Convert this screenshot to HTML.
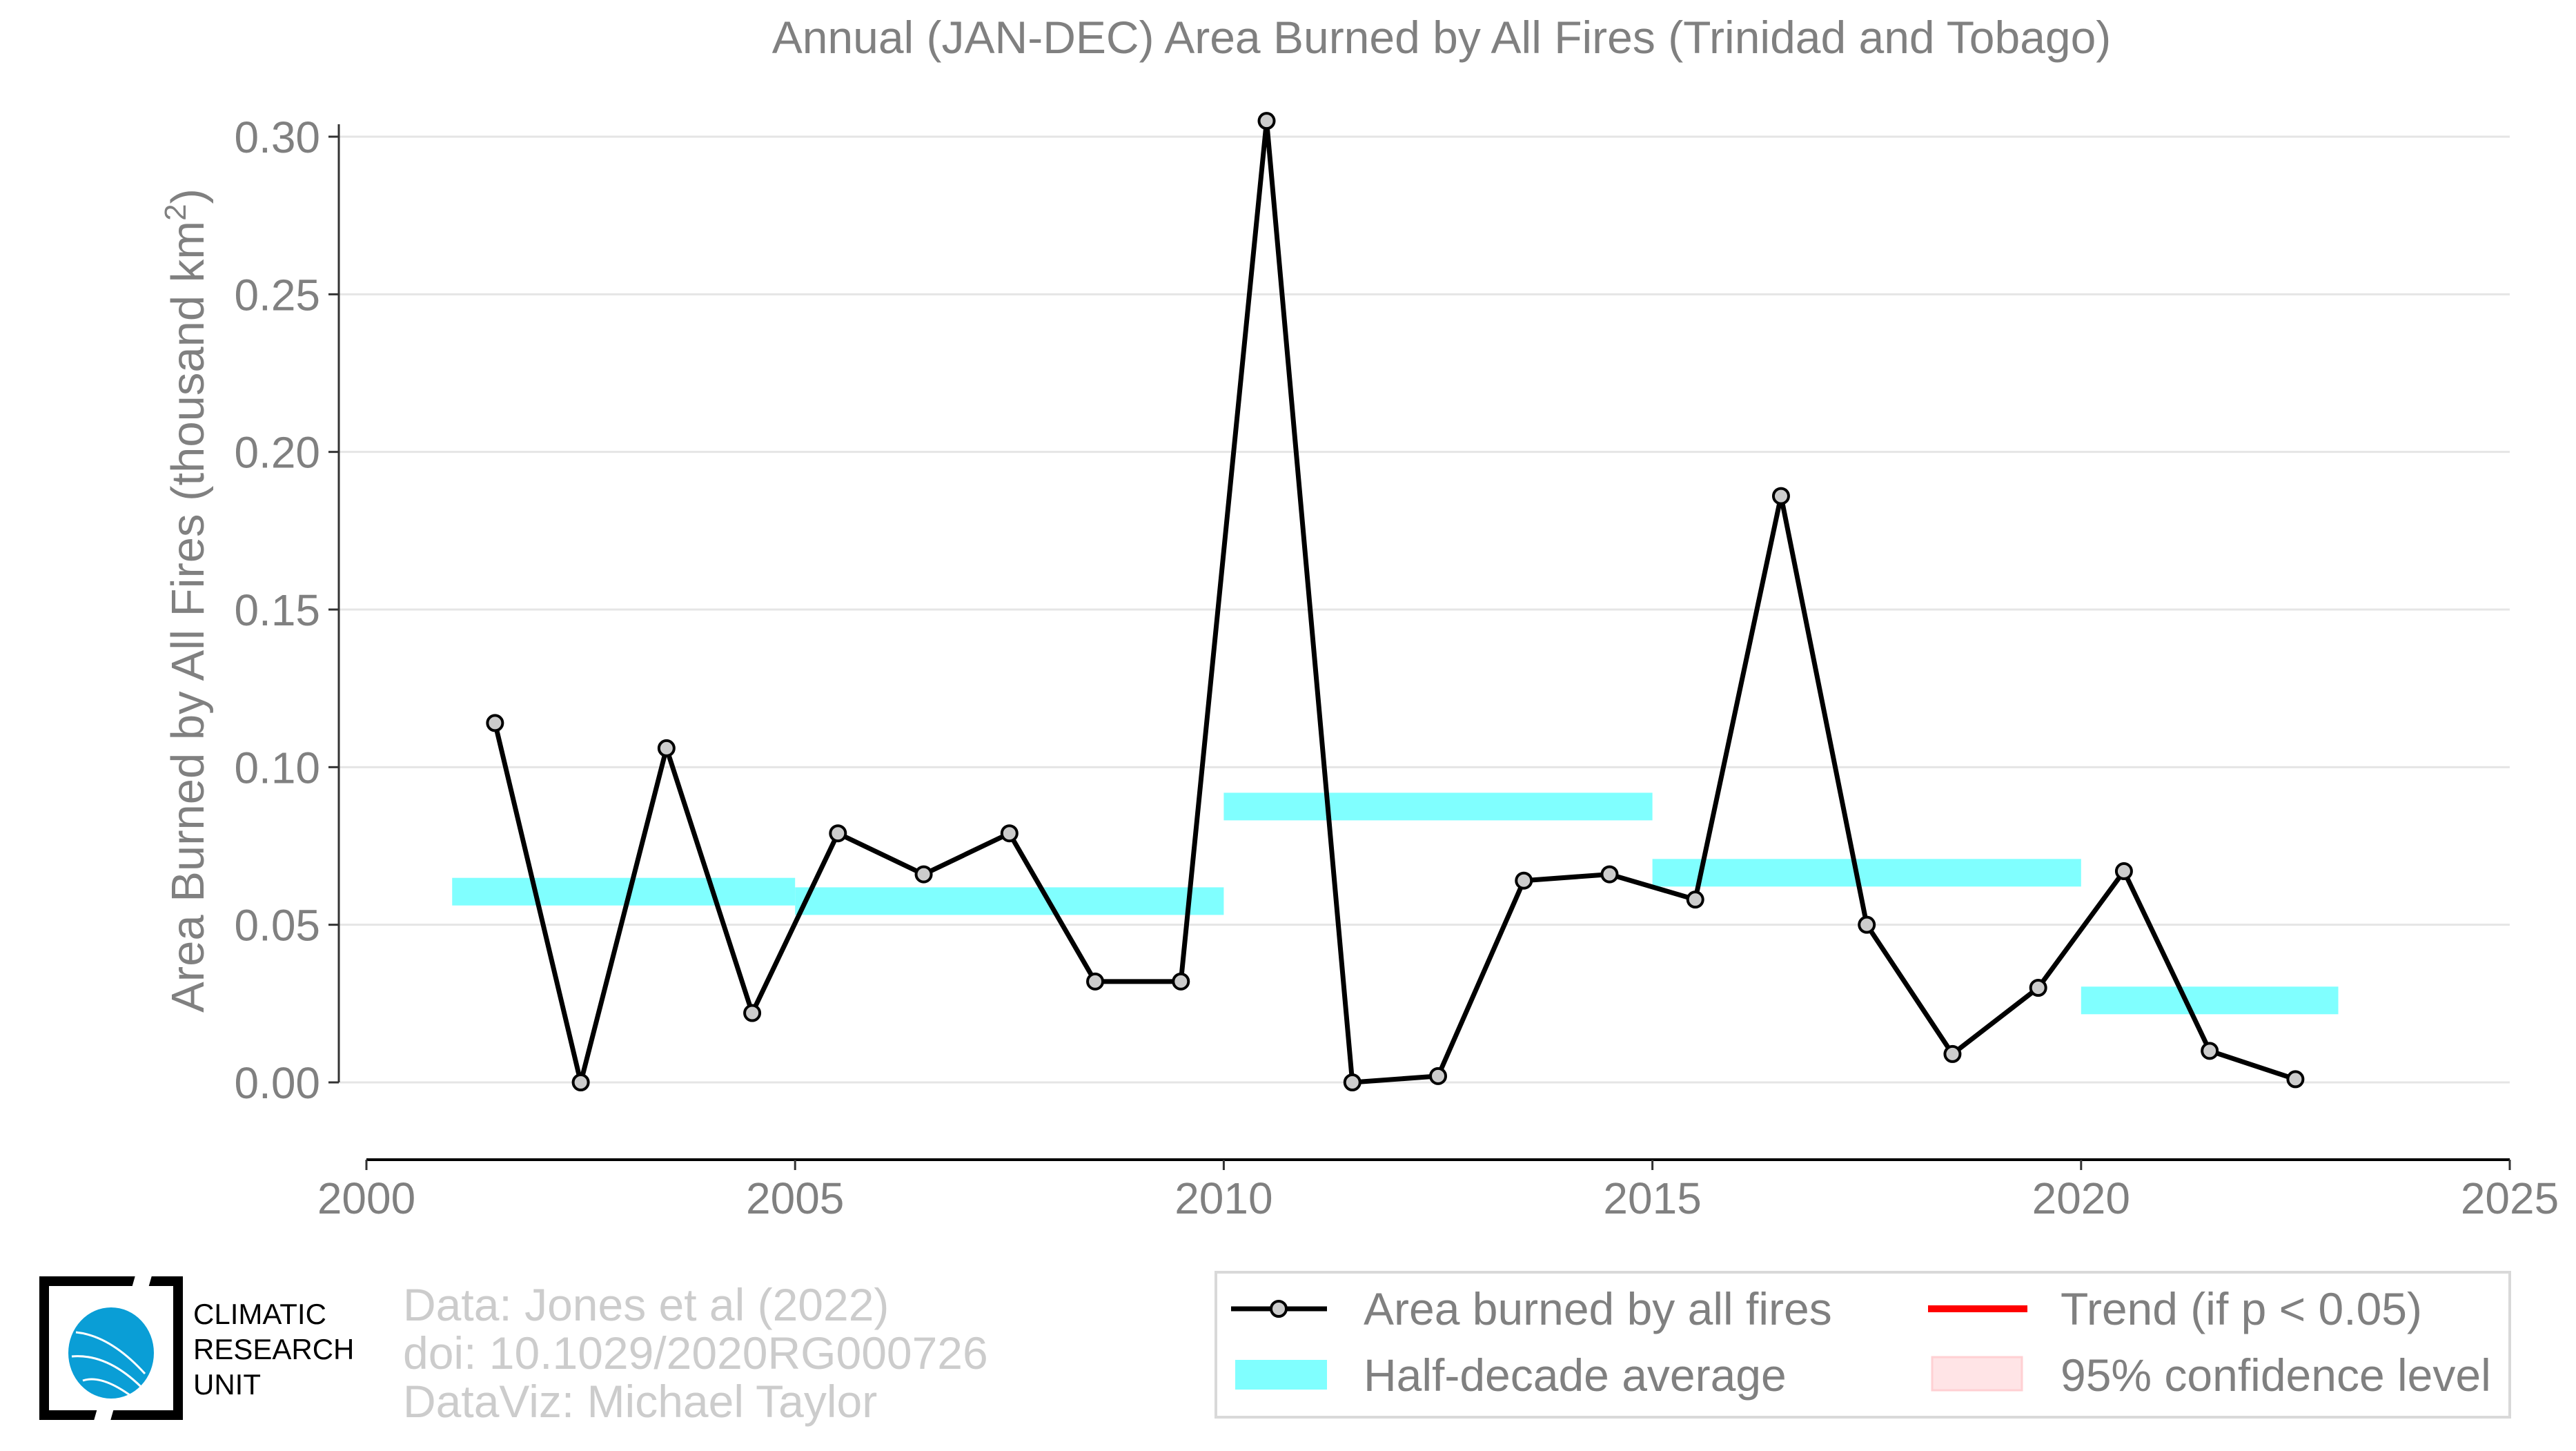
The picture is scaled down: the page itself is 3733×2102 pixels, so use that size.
<!DOCTYPE html>
<html><head><meta charset="utf-8"><style>
html,body{margin:0;padding:0;background:#fff;}
svg{display:block;font-family:"Liberation Sans",sans-serif;}
</style></head><body>
<svg id="chart" width="3733" height="2102" viewBox="0 0 3733 2102" xmlns="http://www.w3.org/2000/svg">
<text x="2089" y="77" text-anchor="middle" font-size="66" fill="#808080">Annual (JAN-DEC) Area Burned by All Fires (Trinidad and Tobago)</text>
<g id="grid"></g>
<g id="bars"></g>
<g id="series"></g>
<g id="axes"></g>
<text transform="translate(295,870) rotate(-90)" text-anchor="middle" font-size="67" fill="#808080">Area Burned by All Fires (thousand km<tspan font-size="44" dy="-26">2</tspan><tspan dy="26">)</tspan></text>

<g>
<rect x="64" y="1856" width="194" height="194" fill="none" stroke="#000" stroke-width="14"/>
<polygon points="196,1848 220,1848 160,2058 136,2058" fill="#fff"/>
<line x1="208" y1="1850" x2="148" y2="2056" stroke="#fff" stroke-width="10"/>
<ellipse cx="161" cy="1960" rx="62" ry="66" fill="#0a9ed6"/>
<path d="M110 1930 Q160 1935 210 1990 M104 1965 Q160 1960 215 2020 M120 2000 Q150 1990 200 2030" stroke="#fff" stroke-width="3" fill="none"/>
<text x="280" y="1918" font-size="42" fill="#000">CLIMATIC</text>
<text x="280" y="1969" font-size="42" fill="#000">RESEARCH</text>
<text x="280" y="2020" font-size="42" fill="#000">UNIT</text>
</g>
<g font-size="66" fill="#cccccc">
<text x="584" y="1913">Data: Jones et al (2022)</text>
<text x="584" y="1983">doi: 10.1029/2020RG000726</text>
<text x="584" y="2053">DataViz: Michael Taylor</text>
</g>
<g>
<rect x="1762" y="1843" width="1875" height="210" fill="#fff" stroke="#d9d9d9" stroke-width="4"/>
<line x1="1784" y1="1896" x2="1923" y2="1896" stroke="#000" stroke-width="7"/>
<circle cx="1853" cy="1896" r="11" fill="#cccccc" stroke="#000" stroke-width="4"/>
<text x="1976" y="1919" font-size="66" fill="#808080">Area burned by all fires</text>
<line x1="2794" y1="1896" x2="2938" y2="1896" stroke="#ff0000" stroke-width="10"/>
<text x="2986" y="1919" font-size="66" fill="#808080">Trend (if p &lt; 0.05)</text>
<rect x="1790" y="1970" width="133" height="43" fill="#80ffff"/>
<text x="1976" y="2015" font-size="66" fill="#808080">Half-decade average</text>
<rect x="2800" y="1966" width="130" height="48" fill="#ffe4e6" stroke="#ffd0d3" stroke-width="3"/>
<text x="2986" y="2015" font-size="66" fill="#808080">95% confidence level</text>
</g>
</svg>
<script>
const years = [2001,2002,2003,2004,2005,2006,2007,2008,2009,2010,2011,2012,2013,2014,2015,2016,2017,2018,2019,2020,2021,2022];
const areaValues = [0.114,0.000,0.106,0.022,0.079,0.066,0.079,0.032,0.032,0.305,0.000,0.002,0.064,0.066,0.058,0.186,0.050,0.009,0.030,0.067,0.010,0.001];
const halfStart = [2001,2005,2010,2015,2020];
const halfEnd = [2005,2010,2015,2020,2023];
const halfValues = [0.0605,0.0575,0.0875,0.0665,0.026];
const xTicks = [2000,2005,2010,2015,2020,2025];
const yTicks = [0,0.05,0.10,0.15,0.20,0.25,0.30];
const yTickLabels = ["0.00","0.05","0.10","0.15","0.20","0.25","0.30"];

const NS="http://www.w3.org/2000/svg";
const X0=531,X1=3637,Y0=1568,Y1=198;
const xs=v=>X0+(v-2000)/25*(X1-X0);
const ys=v=>Y0+(v/0.30)*(Y1-Y0);
function mk(tag,attrs,parent){const e=document.createElementNS(NS,tag);for(const k in attrs)e.setAttribute(k,attrs[k]);parent.appendChild(e);return e;}
const grid=document.getElementById('grid'),bars=document.getElementById('bars'),series=document.getElementById('series'),axes=document.getElementById('axes');
yTicks.forEach((t,i)=>{
  const g=mk('line',{x1:491,x2:X1,y1:ys(t),y2:ys(t),stroke:'#e5e5e5','stroke-width':3},grid);
  
  
  const tk=mk('line',{x1:476,x2:491,y1:ys(t),y2:ys(t),stroke:'#333','stroke-width':3},axes);
  
  
  const lb=mk('text',{x:464,y:ys(t)+23,'text-anchor':'end','font-size':64,fill:'#808080'},axes);
  lb.textContent=yTickLabels[i];
  
  
});
const ya=mk('line',{x1:491,x2:491,y1:180,y2:1568,stroke:'#333','stroke-width':3},axes);


const xa=mk('line',{x1:X0,x2:X1,y1:1680,y2:1680,stroke:'#000','stroke-width':4},axes);


xTicks.forEach(t=>{
  const tk=mk('line',{x1:xs(t),x2:xs(t),y1:1680,y2:1695,stroke:'#333','stroke-width':3},axes);
  
  
  const lb=mk('text',{x:xs(t),y:1758,'text-anchor':'middle','font-size':64,fill:'#808080'},axes);
  lb.textContent=t;
  
  
});
halfValues.forEach((v,i)=>{
  const r=mk('rect',{x:xs(halfStart[i]),width:xs(halfEnd[i])-xs(halfStart[i]),y:ys(v)-20,height:40,fill:'#80ffff'},bars);
  
  
});
const pts=years.map((y,i)=>[xs(y+0.5),ys(areaValues[i])]);
const pl=mk('polyline',{points:pts.map(p=>p.join(',')).join(' '),fill:'none',stroke:'#000','stroke-width':7,'stroke-linejoin':'round'},series);


pts.forEach(p=>{
  const c=mk('circle',{cx:p[0],cy:p[1],r:11,fill:'#cccccc',stroke:'#000','stroke-width':4},series);
  
  
});
</script>
</body></html>
